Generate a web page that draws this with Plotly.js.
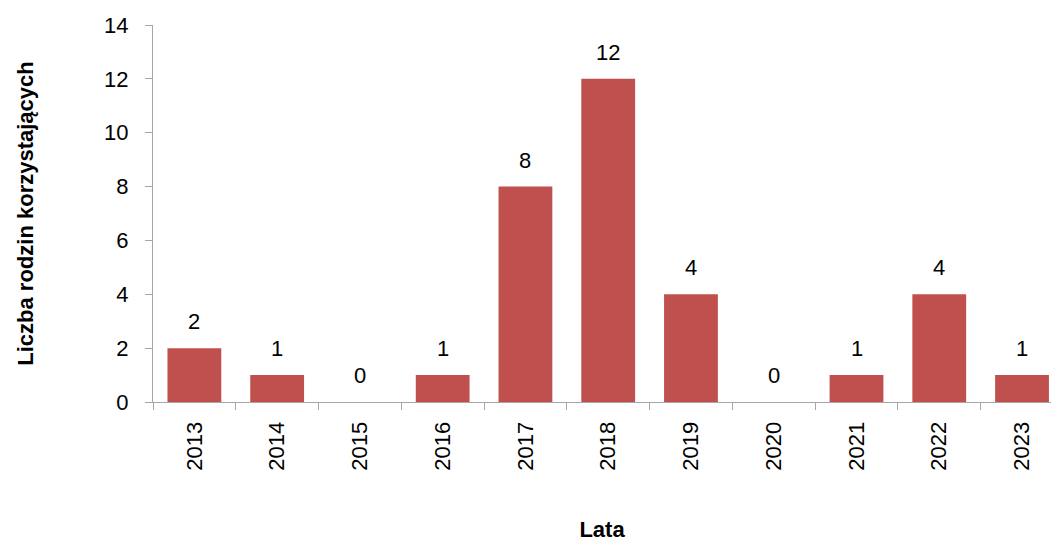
<!DOCTYPE html>
<html>
<head>
<meta charset="utf-8">
<script src="https://cdn.plot.ly/plotly-3.0.1.min.js"></script>
<style>
html,body{margin:0;padding:0;overflow:hidden;background:#fff;}
#chart{width:1051px;height:542px;}
</style>
</head>
<body>
<div id="chart"></div>
<script>
const years = ["2013","2014","2015","2016","2017","2018","2019","2020","2021","2022","2023"];
const families = [2, 1, 0, 1, 8, 12, 4, 0, 1, 4, 1];
const yTickVals = [0, 2, 4, 6, 8, 10, 12, 14];

const FONT = '"Liberation Sans Narrow", "Liberation Sans", Arial, sans-serif';
const AXIS = '#a6a6a6';
const FS = 22;

const trace = {
  type: 'bar',
  x: years,
  y: families,
  marker: {color: '#c0504d'},
  hoverinfo: 'skip'
};

const labels = families.map((v, i) => ({
  x: i, y: v, xref: 'x', yref: 'y',
  text: String(v), showarrow: false,
  xanchor: 'center', yanchor: 'bottom', yshift: 12,
  font: {family: FONT, size: FS, color: '#000'}
}));

const layout = {
  width: 1051, height: 542,
  margin: {l: 153, r: 0, t: 25, b: 140, pad: 0},
  paper_bgcolor: '#fff', plot_bgcolor: '#fff',
  font: {family: FONT, size: FS, color: '#000'},
  showlegend: false,
  bargap: 0.35,
  xaxis: {
    type: 'category',
    range: [-0.5, 10.35],
    showline: true, linecolor: AXIS, linewidth: 1,
    ticks: 'outside', tickson: 'boundaries', ticklen: 7, tickcolor: AXIS, tickwidth: 1,
    tickangle: -90,
    tickfont: {family: FONT, size: FS, color: '#000'},
    ticklabelstandoff: 10,
    showgrid: false, zeroline: false,
    title: {text: '<b>Lata</b>', font: {family: FONT, size: FS, color: '#000'}, standoff: 54}
  },
  yaxis: {
    range: [0, 14],
    tickvals: yTickVals,
    showline: true, linecolor: AXIS, linewidth: 1,
    ticks: 'outside', ticklen: 7, tickcolor: AXIS, tickwidth: 1,
    tickfont: {family: FONT, size: FS, color: '#000'},
    ticklabelstandoff: 12,
    showgrid: false, zeroline: false,
    title: {text: '<b>Liczba rodzin korzystających</b>', font: {family: FONT, size: FS, color: '#000'}, standoff: 64}
  },
  annotations: labels
};

Plotly.newPlot('chart', [trace], layout, {displayModeBar: false, staticPlot: true});
</script>
</body>
</html>
